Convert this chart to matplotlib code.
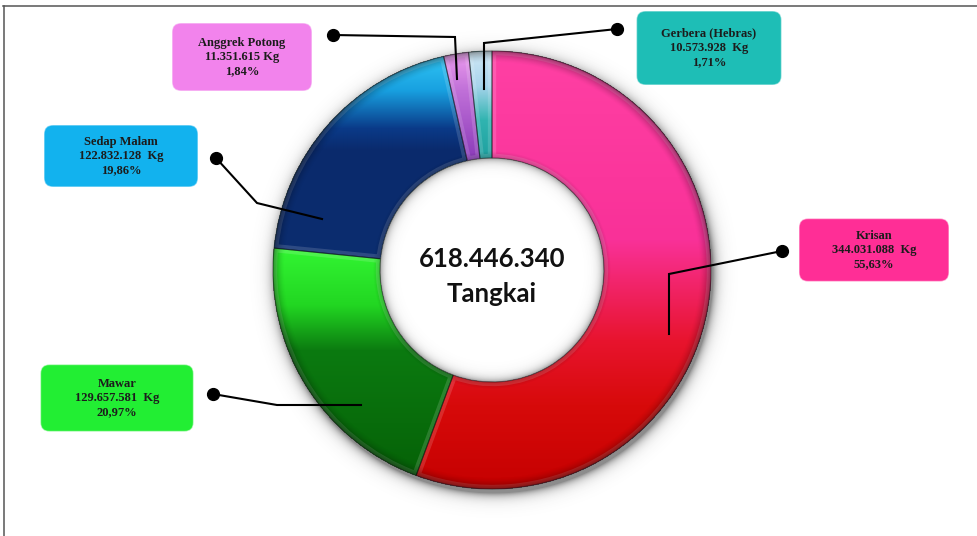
import numpy as np
import matplotlib
matplotlib.use("Agg")
import matplotlib.pyplot as plt
from matplotlib.patches import FancyBboxPatch, PathPatch
from matplotlib.colors import to_rgb

W, H = 978, 536

# Cut-flower production (stems), clockwise from 12 o'clock
names = ["Krisan", "Mawar", "Sedap Malam", "Anggrek Potong", "Gerbera (Hebras)"]
values = [344031088, 129657581, 122832128, 11351615, 10573928]
kg_gap = ["  ", "  ", "  ", " ", "  "]
center_unit = "Tangkai"

box_colors = ["#FF2E96", "#22EE33", "#12B2EE", "#F283EC", "#1EBEB6"]

# vertical colour ramps for each slice: (pixel row from top, colour)
ramps = [
    [(50, "#FF40A4"), (240, "#F93198"), (340, "#E8142E"), (405, "#D70A0A"), (495, "#C40000")],
    [(245, "#33F733"), (305, "#22D622"), (350, "#0B7A10"), (495, "#055E06")],
    [(50, "#34CCF8"), (90, "#18A0E0"), (128, "#0A3A88"), (150, "#0A2A6C"), (270, "#0C2E70")],
    [(45, "#F4A4F2"), (90, "#C070D8"), (160, "#8A3AB8")],
    [(45, "#D8ECF8"), (85, "#A8D4EC"), (120, "#30B4B0"), (160, "#1E9E9E")],
]

# layout (pixel coordinates, origin top-left)
cx, cy = 492, 270
R_out, R_in = 219, 112
boxes = [  # centre x, centre y, width, height
    (874, 250, 150, 63),
    (117, 398, 153, 67),
    (121, 156, 154, 62),
    (242, 57, 140, 68),
    (709, 48, 145, 74),
]
leaders = [
    [(782, 251), (669, 274), (669, 334)],
    [(213, 394), (277, 405), (361, 405)],
    [(216, 158), (257, 203), (322, 219)],
    [(333, 35), (455, 37), (457, 79)],
    [(617, 29), (484, 43), (484, 89)],
]


def fy(y):
    """pixel row -> data y"""
    return H - y


def dotted(n):
    return f"{n:,}".replace(",", ".")


total = sum(values)

fig = plt.figure(figsize=(W / 100, H / 100), dpi=100)
ax = fig.add_axes([0, 0, 1, 1])

# drop shadow behind the ring and soft shadow inside the hole
yy, xx = np.mgrid[0:H, 0:W] + 0.5
r = np.hypot(xx - cx, yy - cy)
rs = np.hypot(xx - cx - 2, yy - cy - 4)
d = rs - R_out
sh = np.where(rs > R_out - 6, 0.6 * np.exp(-np.clip(d, 0, None) / 5.0), 0.0)
shadow = np.zeros((H, W, 4))
shadow[..., :3] = 0.25
shadow[..., 3] = sh
ax.imshow(shadow, extent=(0, W, 0, H), origin="upper", aspect="auto",
          interpolation="bilinear", zorder=1)

wedges, _ = ax.pie(values, startangle=90, counterclock=False, radius=R_out,
                   center=(cx, fy(cy)),
                   wedgeprops=dict(width=R_out - R_in, edgecolor="none"),
                   colors=box_colors)
for w in wedges:
    w.set_zorder(2)

rows = np.arange(40, 500)
for w, ramp in zip(wedges, ramps):
    ys = [p[0] for p in ramp]
    cols = np.array([to_rgb(p[1]) for p in ramp])
    grad = np.stack([np.interp(rows, ys, cols[:, k]) for k in range(3)], axis=-1)
    grad = np.repeat(grad[:, None, :], 2, axis=1)
    im = ax.imshow(grad, extent=(cx - R_out - 3, cx + R_out + 3, fy(500), fy(40)),
                   origin="upper", aspect="auto", interpolation="bilinear", zorder=2.1)
    im.set_clip_path(w)
    # bevel highlight along slice edges
    hl = PathPatch(w.get_path(), transform=ax.transData, facecolor="none",
                   edgecolor=(1, 1, 1, 0.14), lw=6, zorder=2.3)
    ax.add_patch(hl)
    hl.set_clip_path(w)
    ax.add_patch(PathPatch(w.get_path(), transform=ax.transData, facecolor="none",
                           edgecolor=(0, 0, 0, 0.4), lw=0.8, zorder=2.4))

# tube shading at the ring rims
ring = (r >= R_in - 0.5) & (r <= R_out + 0.5)
a_out = 0.38 * np.clip((r - (R_out - 12)) / 12, 0, 1) ** 1.6
a_in = 0.18 * np.clip(((R_in + 7) - r) / 7, 0, 1)
shade = np.zeros((H, W, 4))
shade[..., 3] = np.where(ring, a_out + a_in, 0)
ax.imshow(shade, extent=(0, W, 0, H), origin="upper", aspect="auto",
          interpolation="bilinear", zorder=2.5)

hole = np.zeros((H, W, 4))
hole[..., :3] = 0.3
hole[..., 3] = np.where(r < R_in + 0.3, 0.55 * np.exp(-np.clip(R_in - r, 0, None) / 4.0), 0)
ax.imshow(hole, extent=(0, W, 0, H), origin="upper", aspect="auto",
          interpolation="bilinear", zorder=2.6)

# centre total
ax.text(cx, fy(267), dotted(total), ha="center", va="baseline", fontsize=18.5,
        fontweight="bold", family="Lato", color="#111111", zorder=6)
ax.text(cx, fy(302), center_unit, ha="center", va="baseline", fontsize=18.5,
        fontweight="bold", family="Lato", color="#111111", zorder=6)

# label boxes with leader lines
for name, v, gap, col, (bx, by, bw, bh), pts in zip(names, values, kg_gap, box_colors,
                                                      boxes, leaders):
    box = FancyBboxPatch((bx - bw / 2, fy(by) - bh / 2), bw, bh,
                         boxstyle="round,pad=0,rounding_size=9",
                         facecolor=col, edgecolor=(1, 1, 1, 0.5), lw=1, zorder=4)
    ax.add_patch(box)
    pct = f"{v / total * 100:.2f}".replace(".", ",")
    label = f"{name}\n{dotted(v)}{gap}Kg\n{pct}%"
    ax.text(bx, fy(by), label, ha="center", va="center", fontsize=9,
            fontweight="bold", family="Liberation Serif", color="#1c1c1c",
            linespacing=1.26, zorder=5)
    px = [p[0] for p in pts]
    py = [fy(p[1]) for p in pts]
    ax.plot(px, py, color="black", lw=1.5, solid_joinstyle="miter", zorder=5)
    ax.plot(px[0], py[0], "o", color="black", ms=8.5, zorder=5)

# frame
ax.plot([3, W], [fy(6), fy(6)], color="#555555", lw=1.1, zorder=7)
ax.plot([4, 4], [0, fy(6)], color="#555555", lw=1.1, zorder=7)

ax.set_xlim(0, W)
ax.set_ylim(0, H)
ax.set_aspect("auto")
ax.axis("off")
fig.savefig("out.png", dpi=100, facecolor="white")
